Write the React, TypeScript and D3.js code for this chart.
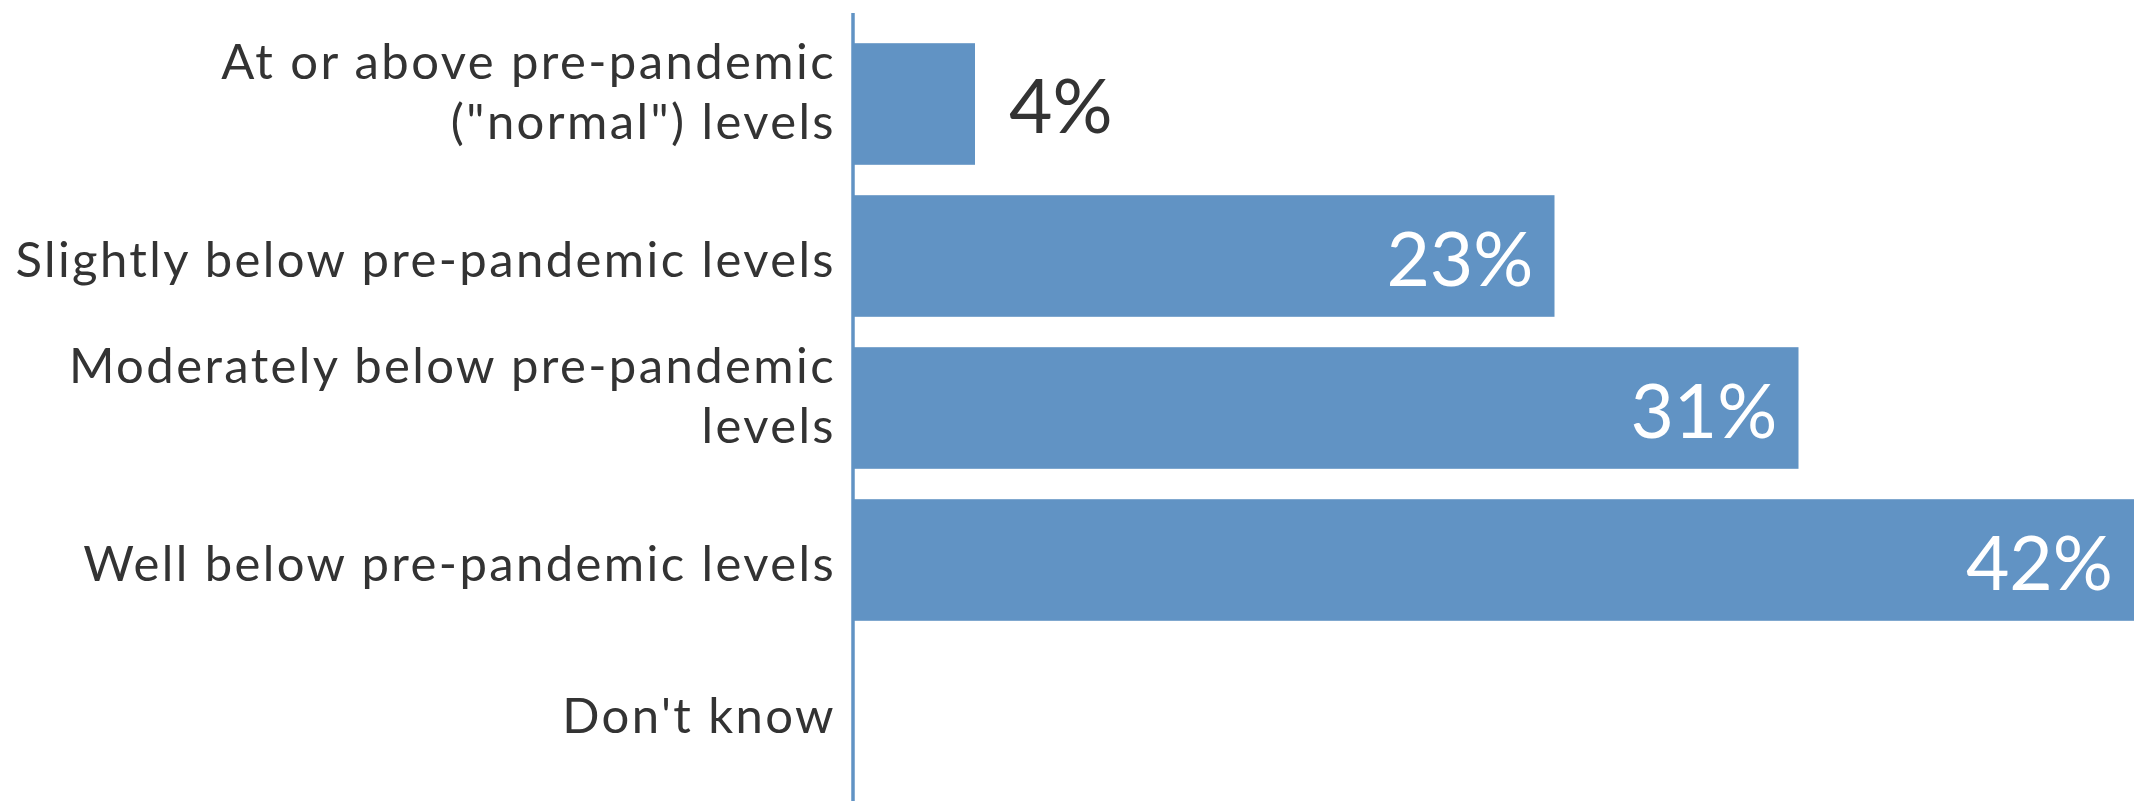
import React from "react";
import * as d3 from "d3";

const categories: string[][] = [
  ["At or above pre-pandemic", "(\"normal\") levels"],
  ["Slightly below pre-pandemic levels"],
  ["Moderately below pre-pandemic", "levels"],
  ["Well below pre-pandemic levels"],
  ["Don't know"],
];
const values: (number | null)[] = [4, 23, 31, 42, null];
const valueLabels: string[] = ["4%", "23%", "31%", "42%", ""];

const W = 2136;
const H = 801;
const BAR = "#6193c4";
const TEXT = "#333333";
const FONT = "Lato, 'Source Sans Pro', sans-serif";

export default function App() {
  const x = d3.scaleLinear().domain([0, 42]).range([853, 2134]);
  const y = d3
    .scaleBand<number>()
    .domain(d3.range(categories.length))
    .range([28, 788])
    .paddingInner(0.2)
    .paddingOuter(0.1);

  return (
    <svg
      width={W}
      height={H}
      style={{ position: "absolute", left: 0, top: 0, background: "#fff" }}
      fontFamily={FONT}
    >
      {categories.map((lines, i) => {
        const cy = (y(i) as number) + y.bandwidth() / 2;
        const v = values[i];
        const offs = lines.length === 1 ? [21] : [-25, 34.5];
        return (
          <g key={i}>
            {v !== null && (
              <rect
                x={x(0)}
                y={y(i)}
                width={x(v) - x(0)}
                height={y.bandwidth()}
                fill={BAR}
              />
            )}
            <text
              textAnchor="end"
              fontSize={49}
              letterSpacing={2.4}
              fill={TEXT}
            >
              {lines.map((ln, j) => (
                <tspan key={j} x={836} y={cy + offs[j]}>
                  {ln}
                </tspan>
              ))}
            </text>
            {v !== null &&
              (x(v) - x(0) > 200 ? (
                <text
                  x={x(v) - 21}
                  y={cy + 30}
                  textAnchor="end"
                  fontSize={75}
                  fill="#ffffff"
                >
                  {valueLabels[i]}
                </text>
              ) : (
                <text
                  x={x(v) + 34}
                  y={cy + 29}
                  textAnchor="start"
                  fontSize={75}
                  fill={TEXT}
                >
                  {valueLabels[i]}
                </text>
              ))}
          </g>
        );
      })}
      <line
        x1={x(0)}
        x2={x(0)}
        y1={13}
        y2={H}
        stroke={BAR}
        strokeWidth={3.5}
      />
    </svg>
  );
}
